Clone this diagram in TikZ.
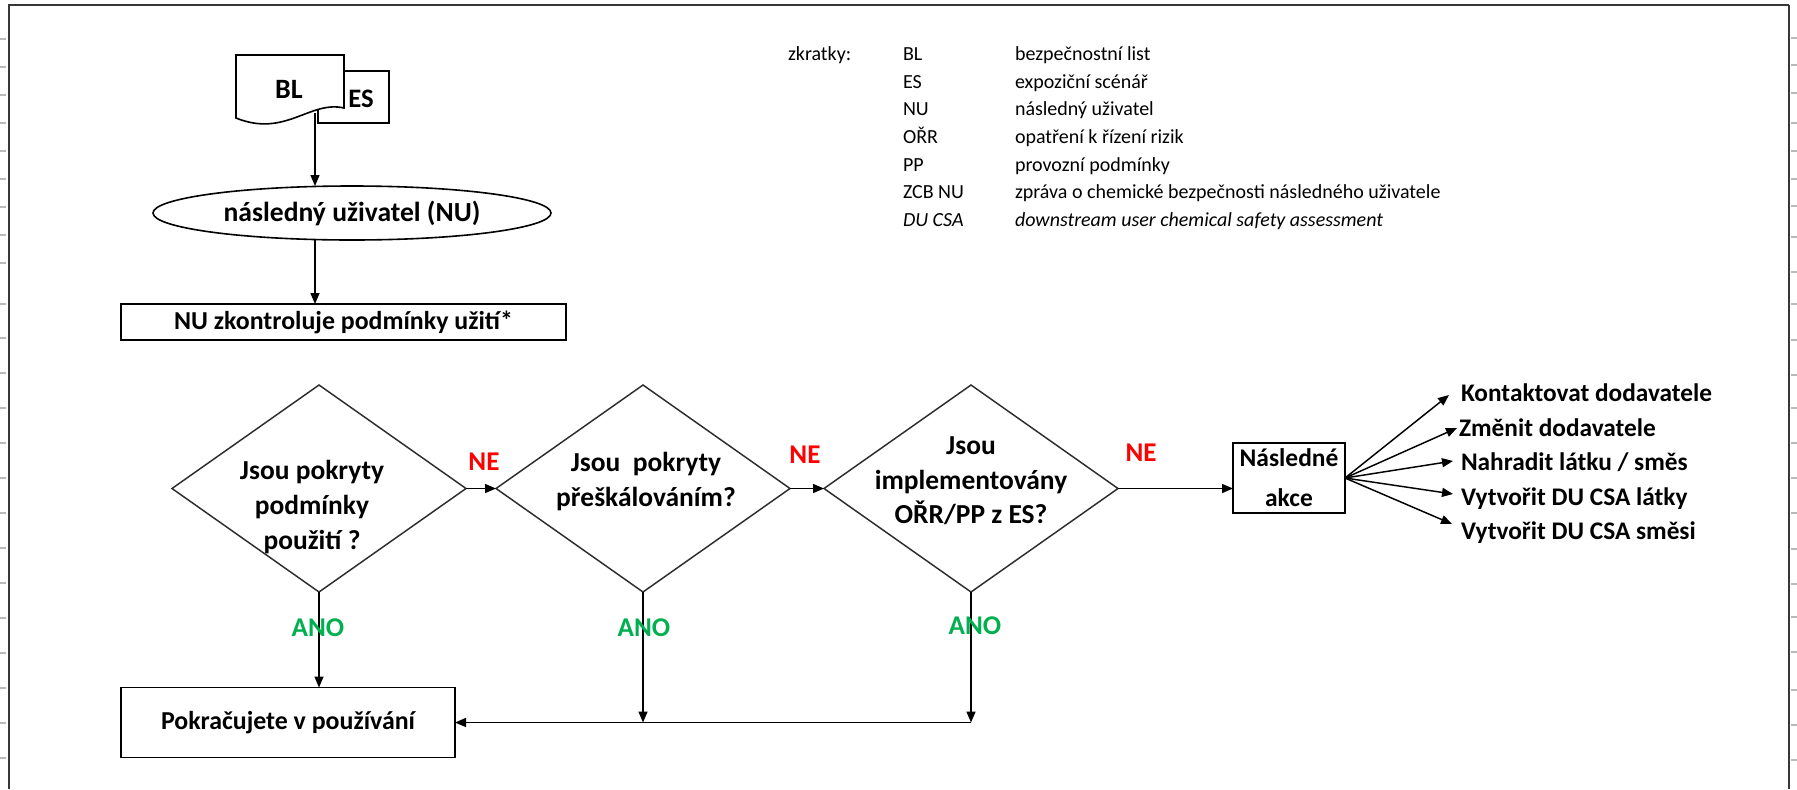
\documentclass[tikz,border=0pt]{standalone}
\usepackage{fontspec}
\setmainfont{Carlito}
\usetikzlibrary{shapes.geometric,arrows.meta}

\definecolor{nered}{RGB}{255,0,0}
\definecolor{anogreen}{RGB}{0,176,80}
\definecolor{framegray}{RGB}{55,55,55}
\definecolor{tickgray}{RGB}{185,185,185}
\definecolor{edgegray}{RGB}{45,45,45}

\newcommand\fcQFont{\fontsize{20.6}{25.9}\selectfont\bfseries}
\newcommand\fcBoxFont{\fontsize{19.4}{30}\selectfont\bfseries}
\newcommand\fcActFont{\fontsize{19}{24}\selectfont\bfseries}
\newcommand\fcMarkFont{\fontsize{20.3}{24}\selectfont\bfseries}
\newcommand\fcLegFont{\fontsize{15}{18}\selectfont}

\begin{document}
\begin{tikzpicture}[
  x=0.75pt, y=-0.75pt,
  every node/.style={inner sep=0pt, outer sep=0pt},
  frameline/.style={draw=framegray, line width=1.5pt},
  gridtick/.style={draw=tickgray, line width=0.8pt},
  flowline/.style={draw=black, line width=1.1pt},
  flowarrow/.style={flowline, -{Triangle[length=8.25pt,width=6.75pt]}},
  plainbox/.style={rectangle, draw=black, line width=1.2pt, fill=white, font=\fcBoxFont, align=center},
  decision/.style={diamond, draw=edgegray, line width=1.1pt, minimum width=220.5pt, minimum height=155.25pt},
  question/.style={font=\fcQFont, align=center},
  nomark/.style={font=\fcMarkFont, text=nered},
  yesmark/.style={font=\fcMarkFont, text=anogreen},
  action/.style={font=\fcActFont, anchor=base west},
  abbr/.style={font=\fcLegFont, anchor=base west},
  abbrit/.style={font=\fcLegFont\itshape, anchor=base west},
]
\useasboundingbox (0,0) rectangle (1797,789);
\fill[white] (0,0) rectangle (1797,789);

% sheet frame and row ticks
\draw[frameline] (9,789) -- (9,5) -- (1789,5);
\draw[draw=framegray, line width=2pt] (1789,5) -- (1789,789);
\foreach \r in {39,67,95,123,151,179,207,235,263,304,338,373,408,443,478,513,548,583,618,653,688,723,758}
  \draw[gridtick] (0,\r) -- (6,\r);
\foreach \r in {38,65,93,123,151,179,206,237,272,304,340,375,408,443,478,513,549,584,617,652,690,725,760}
  \draw[gridtick] (1791,\r) -- (1797,\r);

% documents: exposure scenario behind the safety data sheet
\node[plainbox, minimum width=53.25pt, minimum height=39pt] (es) at (353.5,97) {};
\draw[line width=1.2pt, fill=white] (236,55) -- (344,55) -- (344,108)
   .. controls (310,100) and (285,138) .. (236,118) -- cycle;
\node[font=\fontsize{21}{24}\selectfont\bfseries] (bltext) at (289,89) {BL};
\node[font=\fontsize{20}{24}\selectfont\bfseries] (estext) at (361,99) {ES};
\coordinate (blout) at (315,113);

% downstream user and the check of conditions
\node[ellipse, draw=black, line width=1.2pt, minimum width=298.5pt, minimum height=40.5pt,
      font=\fontsize{20.7}{24}\selectfont\bfseries] (nu) at (352,213) {následný uživatel (NU)};
\node[plainbox, minimum width=333.75pt, minimum height=27pt] (chk) at (343.5,322) {NU zkontroluje podmínky užití*};
\draw[flowarrow] (blout) -- (blout |- nu.north);
\draw[flowarrow] (blout |- nu.south) -- (blout |- chk.north);

% decisions
\node[decision] (d1) at (319,488.5) {};
\node[decision] (d2) at (643,488.5) {};
\node[decision] (d3) at (971,488.5) {};
\node[question] (q1) at (312,507) {Jsou pokryty\\podmínky\\použití ?};
\node[question] (q2) at (646,481.5) {Jsou\ \ pokryty\\přeškálováním?};
\node[question] (q3) at (971,481) {Jsou\\implementovány\\OŘR/PP z ES?};

% outcomes
\node[plainbox, minimum width=250.5pt, minimum height=52.5pt] (pok) at (288,722.5) {Pokračujete v používání};
\node[plainbox, minimum width=84pt, minimum height=52.5pt, font=\fontsize{19.1}{30}\selectfont\bfseries] (nasl) at (1289,478) {Následné\\akce};

\draw[flowarrow] (d1.east) -- (d2.west);
\draw[flowarrow] (d2.east) -- (d3.west);
\draw[flowarrow] (d3.east) -- (d3.east -| nasl.west);
\draw[flowarrow] (d1.south) -- (d1.south |- pok.north);
\coordinate (j2) at (d2.south |- pok.east);
\coordinate (j3) at (d3.south |- pok.east);
\draw[flowarrow] (d2.south) -- (j2);
\draw[flowarrow] (d3.south) -- (j3);
\draw[flowarrow] (j3) -- (pok.east);

\node[nomark] (ne1) at (484,462) {NE};
\node[nomark] (ne2) at (805,455) {NE};
\node[nomark] (ne3) at (1141,453) {NE};
\node[yesmark] (ano1) at (318,628) {ANO};
\node[yesmark] (ano2) at (644,628) {ANO};
\node[yesmark] (ano3) at (975,626) {ANO};

% follow-up actions
\node[action] (k1) at (1461,401) {Kontaktovat dodavatele};
\node[action] (k2) at (1459,436) {Změnit dodavatele};
\node[action] (k3) at (1461,470) {Nahradit látku / směs};
\node[action] (k4) at (1461,505) {Vytvořit DU CSA látky};
\node[action] (k5) at (1461,539) {Vytvořit DU CSA směsi};
\coordinate (a1) at (1449,395);
\coordinate (a2) at (1457,428);
\coordinate (a3) at (1453,461);
\coordinate (a4) at (1453,494);
\coordinate (a5) at (1452,524);
\foreach \i in {1,...,5} \draw[flowarrow] (nasl.east) -- (a\i);

% abbreviations
\node[abbr] (lgh) at (788,60.5) {zkratky:};
\node[abbr] (la1) at (903,60.5) {BL};
\node[abbr] (ld1) at (1015,60.5) {bezpečnostní list};
\node[abbr] (la2) at (903,88) {ES};
\node[abbr] (ld2) at (1015,88) {expoziční scénář};
\node[abbr] (la3) at (903,115.5) {NU};
\node[abbr] (ld3) at (1015,115.5) {následný uživatel};
\node[abbr] (la4) at (903,143) {OŘR};
\node[abbr] (ld4) at (1015,143) {opatření k řízení rizik};
\node[abbr] (la5) at (903,171) {PP};
\node[abbr] (ld5) at (1015,171) {provozní podmínky};
\node[abbr] (la6) at (903,198.5) {ZCB NU};
\node[abbr] (ld6) at (1015,198.5) {zpráva o chemické bezpečnosti následného uživatele};
\node[abbrit] (la7) at (903,226) {DU CSA};
\node[abbrit] (ld7) at (1015,226) {downstream user chemical safety assessment};
\end{tikzpicture}
\end{document}
